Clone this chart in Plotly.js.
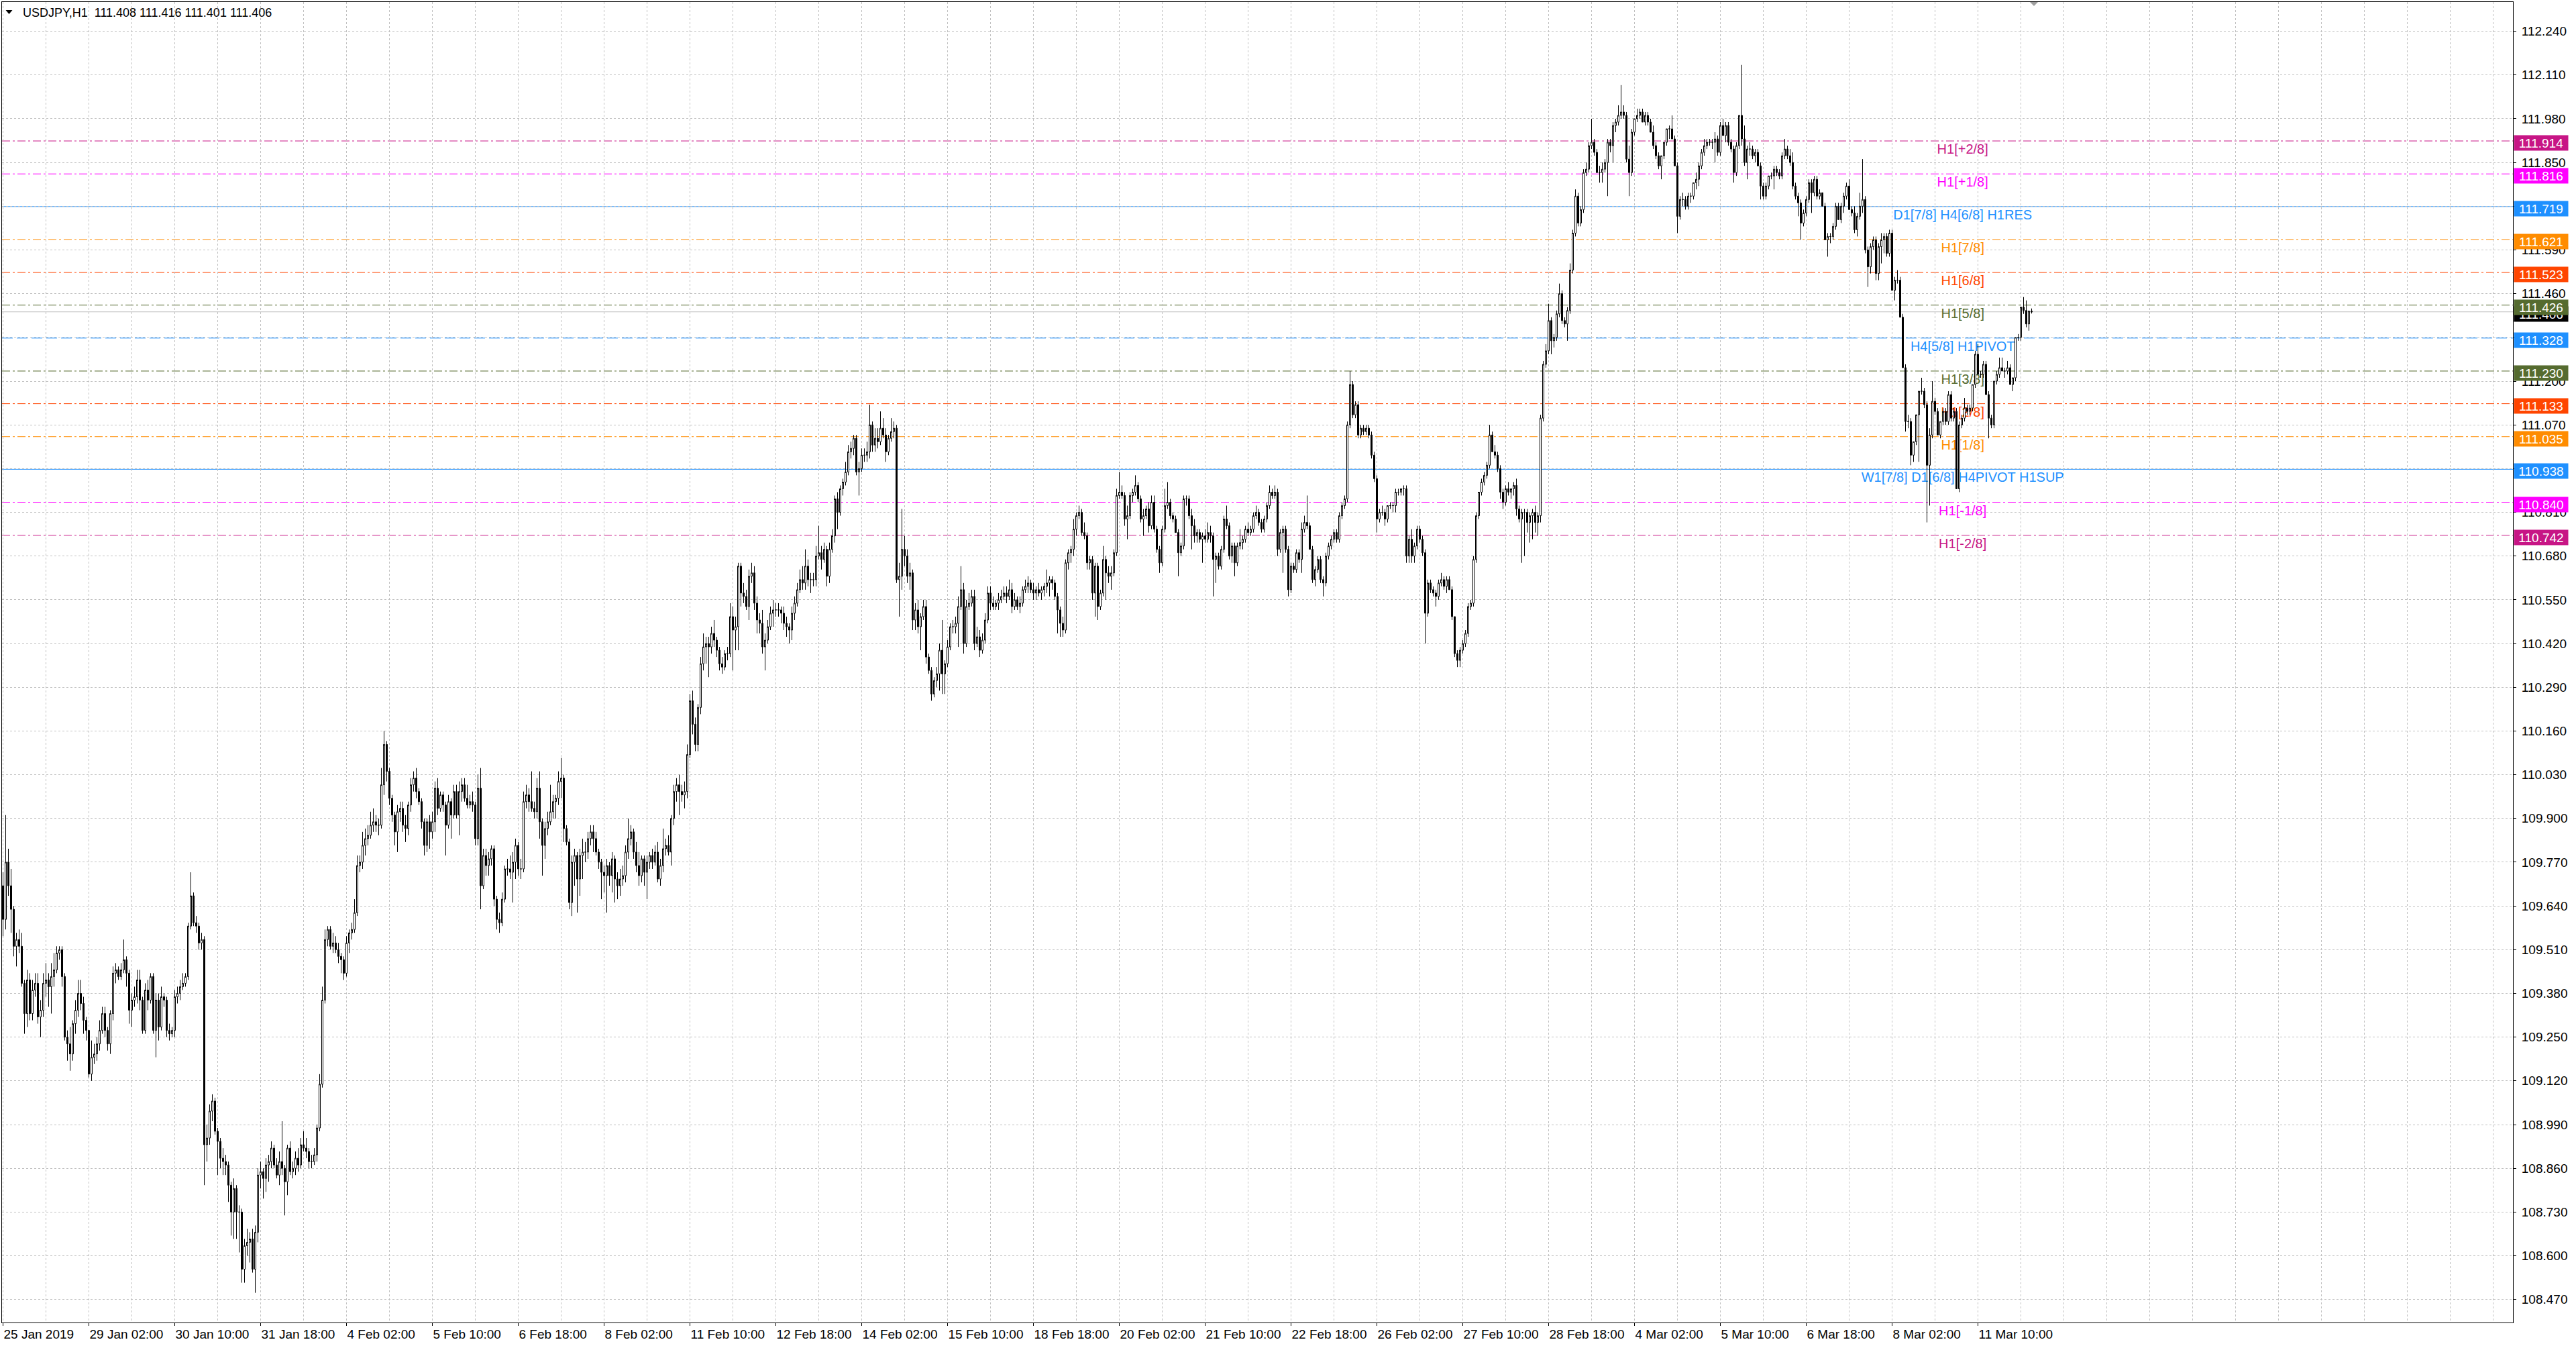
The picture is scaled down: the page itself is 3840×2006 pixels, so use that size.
<!DOCTYPE html>
<html><head><meta charset="utf-8">
<script src="https://cdn.plot.ly/plotly-3.0.1.min.js"></script>
<style>html,body{margin:0;padding:0;background:#fff;overflow:hidden}#chart{width:3840px;height:2006px}</style>
</head><body><div id="chart"></div>
<script>
// ---------------- data ----------------
const symbolName = 'USDJPY,H1';
const timeLabels = ['25 Jan 2019','29 Jan 02:00','30 Jan 10:00','31 Jan 18:00','4 Feb 02:00','5 Feb 10:00','6 Feb 18:00','8 Feb 02:00','11 Feb 10:00','12 Feb 18:00','14 Feb 02:00','15 Feb 10:00','18 Feb 18:00','20 Feb 02:00','21 Feb 10:00','22 Feb 18:00','26 Feb 02:00','27 Feb 10:00','28 Feb 18:00','4 Mar 02:00','5 Mar 10:00','6 Mar 18:00','8 Mar 02:00','11 Mar 10:00'];
const timeLabelBars = [0,32,64,96,128,160,192,224,256,288,320,352,384,416,448,480,512,544,576,608,640,672,704,736];
const priceTicks = [112.240,112.110,111.980,111.850,111.720,111.590,111.460,111.330,111.200,111.070,110.940,110.810,110.680,110.550,110.420,110.290,110.160,110.030,109.900,109.770,109.640,109.510,109.380,109.250,109.120,108.990,108.860,108.730,108.600,108.470];
const levelPrices = [111.914,111.816,111.719,111.621,111.523,111.426,111.328,111.230,111.133,111.035,110.938,110.840,110.742];
const levelNames = ['H1[+2/8]','H1[+1/8]','D1[7/8] H4[6/8] H1RES','H1[7/8]','H1[6/8]','H1[5/8]','H4[5/8] H1PIVOT','H1[3/8]','H1[2/8]','H1[1/8]','W1[7/8] D1[6/8] H4PIVOT H1SUP','H1[-1/8]','H1[-2/8]'];
const bidPrice = 111.406;

const close = [
109.60,109.77,109.70,109.63,109.52,109.54,109.52,109.41,109.32,109.42,
109.32,109.39,109.41,109.31,109.33,109.41,109.42,109.40,109.43,109.45,
109.50,109.51,109.43,109.25,109.23,109.20,109.29,109.33,109.38,109.35,
109.30,109.27,109.14,109.19,109.20,109.23,109.27,109.32,109.27,109.23,
109.32,109.44,109.45,109.43,109.45,109.48,109.44,109.33,109.36,109.37,
109.42,109.36,109.27,109.39,109.36,109.43,109.27,109.36,109.28,109.37,
109.36,109.27,109.26,109.27,109.37,109.38,109.40,109.41,109.43,109.58,
109.67,109.59,109.58,109.53,109.54,108.93,108.95,109.03,109.06,108.97,
108.94,108.89,108.88,108.87,108.81,108.73,108.80,108.73,108.73,108.56,
108.63,108.64,108.65,108.56,108.67,108.84,108.85,108.83,108.87,108.88,
108.92,108.87,108.84,108.88,108.86,108.82,108.92,108.85,108.86,108.89,
108.87,108.93,108.92,108.91,108.88,108.88,108.90,108.98,109.11,109.36,
109.54,109.57,109.52,109.53,109.51,109.49,109.48,109.44,109.53,109.56,
109.57,109.62,109.76,109.77,109.82,109.84,109.85,109.88,109.89,109.88,
109.88,110.00,110.12,110.04,109.96,109.91,109.86,109.92,109.93,109.88,
109.87,109.94,110.00,110.02,109.98,109.95,109.89,109.82,109.89,109.86,
109.89,109.99,109.93,109.97,109.94,109.88,109.95,109.91,109.98,109.91,
109.98,110.00,109.96,109.94,109.95,109.94,109.84,109.99,109.70,109.79,
109.76,109.78,109.81,109.66,109.60,109.59,109.66,109.75,109.75,109.74,
109.77,109.82,109.75,109.75,109.95,109.97,109.95,109.93,109.92,109.99,
109.89,109.82,109.87,109.89,109.92,109.95,109.96,110.01,110.02,109.87,
109.83,109.65,109.77,109.79,109.72,109.79,109.80,109.80,109.84,109.86,
109.84,109.80,109.77,109.74,109.73,109.76,109.73,109.78,109.72,109.70,
109.72,109.73,109.80,109.84,109.86,109.80,109.76,109.73,109.78,109.74,
109.77,109.79,109.77,109.80,109.72,109.76,109.81,109.82,109.80,109.90,
109.98,110.00,109.98,109.97,109.98,110.09,110.25,110.18,110.12,110.23,
110.36,110.41,110.42,110.41,110.45,110.43,110.40,110.36,110.35,110.39,
110.39,110.50,110.46,110.47,110.65,110.57,110.56,110.53,110.62,110.63,
110.54,110.49,110.48,110.41,110.43,110.47,110.51,110.52,110.52,110.52,
110.51,110.48,110.47,110.46,110.51,110.54,110.58,110.61,110.60,110.65,
110.61,110.61,110.61,110.68,110.69,110.67,110.70,110.62,110.70,110.74,
110.85,110.81,110.88,110.90,110.93,110.99,111.00,111.03,110.93,110.94,
110.98,110.98,110.99,111.07,111.01,111.03,111.02,111.06,111.04,110.99,
111.03,111.05,111.06,110.61,110.62,110.70,110.68,110.62,110.63,110.49,
110.52,110.47,110.50,110.53,110.38,110.34,110.27,110.31,110.33,110.40,
110.33,110.36,110.41,110.47,110.47,110.48,110.53,110.58,110.42,110.53,
110.54,110.56,110.42,110.44,110.40,110.43,110.49,110.57,110.54,110.53,
110.54,110.55,110.56,110.57,110.56,110.58,110.53,110.55,110.53,110.54,
110.58,110.59,110.60,110.58,110.57,110.58,110.57,110.58,110.59,110.60,
110.61,110.60,110.56,110.52,110.48,110.46,110.66,110.69,110.70,110.76,
110.80,110.81,110.75,110.74,110.66,110.67,110.57,110.65,110.53,110.57,
110.67,110.63,110.62,110.63,110.69,110.86,110.87,110.86,110.79,110.80,
110.86,110.87,110.89,110.85,110.79,110.80,110.82,110.77,110.84,110.76,
110.70,110.66,110.76,110.83,110.84,110.80,110.79,110.75,110.69,110.71,
110.85,110.85,110.80,110.77,110.74,110.75,110.73,110.74,110.73,110.75,
110.74,110.67,110.68,110.65,110.70,110.79,110.77,110.68,110.71,110.66,
110.71,110.72,110.73,110.76,110.75,110.76,110.80,110.81,110.78,110.76,
110.79,110.83,110.87,110.86,110.87,110.70,110.75,110.76,110.70,110.58,
110.65,110.64,110.69,110.67,110.76,110.78,110.77,110.70,110.61,110.64,
110.67,110.61,110.60,110.68,110.71,110.73,110.75,110.73,110.80,110.83,
110.85,111.07,111.19,111.10,111.13,111.04,111.06,111.05,111.06,111.04,
110.98,110.91,110.79,110.81,110.81,110.79,110.83,110.83,110.83,110.87,
110.87,110.88,110.88,110.68,110.73,110.68,110.71,110.76,110.73,110.69,
110.51,110.60,110.58,110.57,110.56,110.60,110.61,110.59,110.61,110.58,
110.50,110.39,110.37,110.40,110.42,110.45,110.53,110.54,110.67,110.80,
110.87,110.90,110.92,110.95,111.04,110.99,110.98,110.94,110.87,110.84,
110.88,110.87,110.88,110.89,110.82,110.79,110.81,110.81,110.78,110.80,
110.81,110.78,110.80,111.09,111.25,111.29,111.38,111.32,111.33,111.40,
111.46,111.38,111.37,111.41,111.53,111.64,111.75,111.67,111.71,111.82,
111.83,111.90,111.91,111.88,111.82,111.82,111.83,111.85,111.91,111.90,
111.96,111.97,111.99,112.00,111.99,111.86,111.82,111.94,111.98,111.99,
112.00,111.97,111.99,111.97,111.94,111.90,111.87,111.84,111.87,111.91,
111.95,111.95,111.92,111.84,111.69,111.74,111.74,111.72,111.75,111.75,
111.79,111.80,111.84,111.88,111.90,111.91,111.91,111.91,111.92,111.88,
111.96,111.93,111.96,111.91,111.89,111.82,111.90,111.99,111.92,111.85,
111.89,111.89,111.87,111.88,111.84,111.78,111.75,111.78,111.81,111.81,
111.83,111.82,111.81,111.87,111.89,111.87,111.85,111.78,111.75,111.73,
111.67,111.70,111.74,111.79,111.76,111.80,111.75,111.76,111.72,111.62,
111.63,111.63,111.66,111.72,111.68,111.72,111.75,111.78,111.71,111.70,
111.65,111.69,111.72,111.74,111.59,111.54,111.60,111.62,111.52,111.60,
111.62,111.63,111.58,111.64,111.47,111.50,111.50,111.39,111.24,111.08,
111.08,110.98,111.02,111.10,111.17,111.17,111.13,110.95,111.04,111.14,
111.11,111.04,111.08,111.11,111.08,111.16,111.09,111.11,110.88,111.07,
111.09,111.12,111.11,111.12,111.19,111.28,111.22,111.22,111.25,111.16,
111.09,111.07,111.20,111.22,111.24,111.23,111.23,111.24,111.19,111.21,
111.33,111.33,111.42,111.41,111.37,111.408,111.406];

const open = [109.70,
109.60,109.77,109.70,109.63,109.52,109.54,109.52,109.41,109.32,109.42,
109.32,109.39,109.41,109.31,109.33,109.41,109.42,109.40,109.43,109.45,
109.50,109.51,109.43,109.25,109.23,109.20,109.29,109.33,109.38,109.35,
109.30,109.27,109.14,109.19,109.20,109.23,109.27,109.32,109.27,109.23,
109.32,109.44,109.45,109.43,109.45,109.48,109.44,109.33,109.36,109.37,
109.42,109.36,109.27,109.39,109.36,109.43,109.27,109.36,109.28,109.37,
109.36,109.27,109.26,109.27,109.37,109.38,109.40,109.41,109.43,109.58,
109.67,109.59,109.58,109.53,109.54,108.93,108.95,109.03,109.06,108.97,
108.94,108.89,108.88,108.87,108.81,108.73,108.80,108.73,108.73,108.56,
108.63,108.64,108.65,108.56,108.67,108.84,108.85,108.83,108.87,108.88,
108.92,108.87,108.84,108.88,108.86,108.82,108.92,108.85,108.86,108.89,
108.87,108.93,108.92,108.91,108.88,108.88,108.90,108.98,109.11,109.36,
109.54,109.57,109.52,109.53,109.51,109.49,109.48,109.44,109.53,109.56,
109.57,109.62,109.76,109.77,109.82,109.84,109.85,109.88,109.89,109.88,
109.88,110.00,110.12,110.04,109.96,109.91,109.86,109.92,109.93,109.88,
109.87,109.94,110.00,110.02,109.98,109.95,109.89,109.82,109.89,109.86,
109.89,109.99,109.93,109.97,109.94,109.88,109.95,109.91,109.98,109.91,
109.98,110.00,109.96,109.94,109.95,109.94,109.84,109.99,109.70,109.79,
109.76,109.78,109.81,109.66,109.60,109.59,109.66,109.75,109.75,109.74,
109.77,109.82,109.75,109.75,109.95,109.97,109.95,109.93,109.92,109.99,
109.89,109.82,109.87,109.89,109.92,109.95,109.96,110.01,110.02,109.87,
109.83,109.65,109.77,109.79,109.72,109.79,109.80,109.80,109.84,109.86,
109.84,109.80,109.77,109.74,109.73,109.76,109.73,109.78,109.72,109.70,
109.72,109.73,109.80,109.84,109.86,109.80,109.76,109.73,109.78,109.74,
109.77,109.79,109.77,109.80,109.72,109.76,109.81,109.82,109.80,109.90,
109.98,110.00,109.98,109.97,109.98,110.09,110.25,110.18,110.12,110.23,
110.36,110.41,110.42,110.41,110.45,110.43,110.40,110.36,110.35,110.39,
110.39,110.50,110.46,110.47,110.65,110.57,110.56,110.53,110.62,110.63,
110.54,110.49,110.48,110.41,110.43,110.47,110.51,110.52,110.52,110.52,
110.51,110.48,110.47,110.46,110.51,110.54,110.58,110.61,110.60,110.65,
110.61,110.61,110.61,110.68,110.69,110.67,110.70,110.62,110.70,110.74,
110.85,110.81,110.88,110.90,110.93,110.99,111.00,111.03,110.93,110.94,
110.98,110.98,110.99,111.07,111.01,111.03,111.02,111.06,111.04,110.99,
111.03,111.05,111.06,110.61,110.62,110.70,110.68,110.62,110.63,110.49,
110.52,110.47,110.50,110.53,110.38,110.34,110.27,110.31,110.33,110.40,
110.33,110.36,110.41,110.47,110.47,110.48,110.53,110.58,110.42,110.53,
110.54,110.56,110.42,110.44,110.40,110.43,110.49,110.57,110.54,110.53,
110.54,110.55,110.56,110.57,110.56,110.58,110.53,110.55,110.53,110.54,
110.58,110.59,110.60,110.58,110.57,110.58,110.57,110.58,110.59,110.60,
110.61,110.60,110.56,110.52,110.48,110.46,110.66,110.69,110.70,110.76,
110.80,110.81,110.75,110.74,110.66,110.67,110.57,110.65,110.53,110.57,
110.67,110.63,110.62,110.63,110.69,110.86,110.87,110.86,110.79,110.80,
110.86,110.87,110.89,110.85,110.79,110.80,110.82,110.77,110.84,110.76,
110.70,110.66,110.76,110.83,110.84,110.80,110.79,110.75,110.69,110.71,
110.85,110.85,110.80,110.77,110.74,110.75,110.73,110.74,110.73,110.75,
110.74,110.67,110.68,110.65,110.70,110.79,110.77,110.68,110.71,110.66,
110.71,110.72,110.73,110.76,110.75,110.76,110.80,110.81,110.78,110.76,
110.79,110.83,110.87,110.86,110.87,110.70,110.75,110.76,110.70,110.58,
110.65,110.64,110.69,110.67,110.76,110.78,110.77,110.70,110.61,110.64,
110.67,110.61,110.60,110.68,110.71,110.73,110.75,110.73,110.80,110.83,
110.85,111.07,111.19,111.10,111.13,111.04,111.06,111.05,111.06,111.04,
110.98,110.91,110.79,110.81,110.81,110.79,110.83,110.83,110.83,110.87,
110.87,110.88,110.88,110.68,110.73,110.68,110.71,110.76,110.73,110.69,
110.51,110.60,110.58,110.57,110.56,110.60,110.61,110.59,110.61,110.58,
110.50,110.39,110.37,110.40,110.42,110.45,110.53,110.54,110.67,110.80,
110.87,110.90,110.92,110.95,111.04,110.99,110.98,110.94,110.87,110.84,
110.88,110.87,110.88,110.89,110.82,110.79,110.81,110.81,110.78,110.80,
110.81,110.78,110.80,111.09,111.25,111.29,111.38,111.32,111.33,111.40,
111.46,111.38,111.37,111.41,111.53,111.64,111.75,111.67,111.71,111.82,
111.83,111.90,111.91,111.88,111.82,111.82,111.83,111.85,111.91,111.90,
111.96,111.97,111.99,112.00,111.99,111.86,111.82,111.94,111.98,111.99,
112.00,111.97,111.99,111.97,111.94,111.90,111.87,111.84,111.87,111.91,
111.95,111.95,111.92,111.84,111.69,111.74,111.74,111.72,111.75,111.75,
111.79,111.80,111.84,111.88,111.90,111.91,111.91,111.91,111.92,111.88,
111.96,111.93,111.96,111.91,111.89,111.82,111.90,111.99,111.92,111.85,
111.89,111.89,111.87,111.88,111.84,111.78,111.75,111.78,111.81,111.81,
111.83,111.82,111.81,111.87,111.89,111.87,111.85,111.78,111.75,111.73,
111.67,111.70,111.74,111.79,111.76,111.80,111.75,111.76,111.72,111.62,
111.63,111.63,111.66,111.72,111.68,111.72,111.75,111.78,111.71,111.70,
111.65,111.69,111.72,111.74,111.59,111.54,111.60,111.62,111.52,111.60,
111.62,111.63,111.58,111.64,111.47,111.50,111.50,111.39,111.24,111.08,
111.08,110.98,111.02,111.10,111.17,111.17,111.13,110.95,111.04,111.14,
111.11,111.04,111.08,111.11,111.08,111.16,111.09,111.11,110.88,111.07,
111.09,111.12,111.11,111.12,111.19,111.28,111.22,111.22,111.25,111.16,
111.09,111.07,111.20,111.22,111.24,111.23,111.23,111.24,111.19,111.21,
111.33,111.33,111.42,111.41,111.37,111.408];

const high = [
109.74,109.91,109.81,109.75,109.64,109.56,109.57,109.56,109.42,109.45,
109.44,109.42,109.44,109.44,109.36,109.44,109.47,109.44,109.47,109.50,
109.52,109.52,109.52,109.44,109.27,109.28,109.30,109.36,109.42,109.42,
109.37,109.31,109.27,109.24,109.23,109.25,109.30,109.34,109.34,109.28,
109.33,109.46,109.47,109.46,109.47,109.54,109.49,109.45,109.38,109.40,
109.45,109.45,109.37,109.41,109.42,109.44,109.44,109.38,109.38,109.40,
109.38,109.37,109.29,109.28,109.39,109.40,109.42,109.44,109.44,109.59,
109.74,109.68,109.61,109.59,109.56,109.55,108.99,109.05,109.08,109.07,
108.98,108.95,108.92,108.90,108.88,108.82,108.83,108.81,108.75,108.74,
108.65,108.68,108.67,108.68,108.69,108.86,108.88,108.86,108.89,108.90,
108.94,108.93,108.89,108.91,109.00,108.87,108.93,108.94,108.88,108.91,
108.92,108.95,108.97,108.95,108.92,108.90,108.92,108.99,109.14,109.40,
109.57,109.58,109.58,109.56,109.55,109.53,109.50,109.49,109.55,109.57,
109.59,109.66,109.79,109.79,109.86,109.87,109.88,109.92,109.93,109.91,
109.90,110.05,110.16,110.13,110.05,109.97,109.92,109.94,109.95,109.95,
109.91,109.95,110.02,110.04,110.05,109.99,109.96,109.90,109.90,109.91,
109.92,110.01,110.02,109.98,109.98,109.95,109.97,109.96,110.00,110.00,
110.01,110.02,110.02,110.00,109.97,109.98,109.95,110.03,110.05,109.81,
109.81,109.80,109.82,109.82,109.67,109.62,109.68,109.76,109.78,109.79,
109.80,109.84,109.83,109.78,109.98,110.00,109.99,110.04,109.95,110.02,
110.04,109.90,109.89,109.92,110.00,109.97,109.97,110.04,110.08,110.03,
109.88,109.84,109.79,109.81,109.80,109.81,109.84,109.83,109.86,109.88,
109.88,109.86,109.81,109.78,109.76,109.78,109.77,109.80,109.79,109.74,
109.75,109.76,109.82,109.90,109.88,109.87,109.83,109.80,109.79,109.79,
109.79,109.80,109.81,109.82,109.83,109.78,109.87,109.84,109.85,109.91,
110.00,110.02,110.03,110.00,110.01,110.12,110.27,110.28,110.20,110.24,
110.38,110.45,110.44,110.44,110.47,110.49,110.44,110.41,110.38,110.40,
110.41,110.54,110.53,110.50,110.66,110.66,110.60,110.58,110.64,110.66,
110.65,110.56,110.51,110.52,110.45,110.49,110.53,110.55,110.54,110.54,
110.53,110.53,110.50,110.48,110.53,110.56,110.60,110.64,110.65,110.70,
110.67,110.63,110.63,110.71,110.77,110.71,110.72,110.71,110.72,110.76,
110.86,110.87,110.89,110.91,110.96,111.01,111.02,111.04,111.04,110.96,
111.00,111.00,111.02,111.13,111.08,111.06,111.06,111.11,111.09,111.06,
111.04,111.09,111.08,111.07,110.66,110.82,110.74,110.70,110.66,110.64,
110.54,110.55,110.51,110.55,110.55,110.39,110.35,110.32,110.35,110.42,
110.49,110.37,110.43,110.48,110.49,110.50,110.56,110.65,110.60,110.55,
110.57,110.58,110.58,110.47,110.46,110.45,110.51,110.59,110.59,110.56,
110.55,110.57,110.58,110.59,110.59,110.61,110.60,110.57,110.56,110.56,
110.59,110.61,110.62,110.61,110.60,110.59,110.60,110.59,110.60,110.64,
110.62,110.62,110.61,110.57,110.53,110.50,110.67,110.70,110.71,110.79,
110.81,110.83,110.82,110.78,110.75,110.68,110.68,110.66,110.66,110.58,
110.71,110.68,110.65,110.65,110.70,110.88,110.93,110.89,110.87,110.83,
110.87,110.88,110.92,110.90,110.86,110.82,110.83,110.84,110.86,110.86,
110.77,110.71,110.77,110.88,110.90,110.85,110.81,110.80,110.76,110.72,
110.86,110.86,110.86,110.82,110.79,110.76,110.76,110.75,110.76,110.78,
110.77,110.75,110.69,110.69,110.71,110.80,110.83,110.78,110.72,110.72,
110.72,110.76,110.74,110.77,110.78,110.77,110.81,110.83,110.82,110.79,
110.80,110.84,110.89,110.88,110.89,110.88,110.76,110.77,110.77,110.71,
110.66,110.66,110.70,110.70,110.78,110.80,110.86,110.78,110.71,110.65,
110.68,110.68,110.62,110.69,110.72,110.74,110.76,110.76,110.81,110.84,
110.86,111.08,111.23,111.20,111.14,111.14,111.07,111.07,111.07,111.07,
111.05,110.99,110.92,110.82,110.83,110.82,110.83,110.84,110.84,110.88,
110.88,110.88,110.89,110.89,110.74,110.76,110.72,110.77,110.77,110.74,
110.70,110.61,110.61,110.59,110.58,110.61,110.63,110.62,110.62,110.62,
110.59,110.50,110.40,110.41,110.43,110.46,110.54,110.55,110.68,110.81,
110.87,110.91,110.93,110.96,111.07,111.05,111.01,110.99,110.95,110.88,
110.89,110.90,110.88,110.90,110.91,110.83,110.82,110.82,110.82,110.81,
110.82,110.83,110.81,111.10,111.26,111.31,111.43,111.39,111.34,111.41,
111.49,111.47,111.39,111.42,111.55,111.65,111.77,111.76,111.72,111.83,
111.85,111.91,111.98,111.92,111.89,111.84,111.85,111.86,111.92,111.92,
111.97,111.98,112.02,112.08,112.02,112.00,111.90,111.95,111.98,112.01,
112.01,112.01,112.00,112.00,111.98,111.96,111.91,111.88,111.87,111.91,
111.95,111.96,111.99,111.93,111.85,111.75,111.76,111.75,111.76,111.76,
111.79,111.82,111.85,111.89,111.92,111.92,111.92,111.92,111.94,111.93,
111.97,111.98,111.97,111.97,111.92,111.90,111.91,111.99,112.14,111.96,
111.90,111.91,111.90,111.89,111.89,111.85,111.79,111.79,111.81,111.82,
111.84,111.84,111.83,111.88,111.92,111.90,111.89,111.88,111.79,111.76,
111.74,111.71,111.75,111.80,111.80,111.81,111.81,111.77,111.76,111.73,
111.64,111.64,111.67,111.73,111.73,111.73,111.76,111.79,111.80,111.72,
111.72,111.70,111.76,111.86,111.75,111.60,111.61,111.63,111.63,111.61,
111.64,111.64,111.64,111.65,111.65,111.51,111.53,111.51,111.40,111.25,
111.10,111.09,111.02,111.10,111.17,111.21,111.18,111.14,111.06,111.20,
111.15,111.12,111.08,111.12,111.12,111.17,111.17,111.12,111.12,111.08,
111.10,111.15,111.13,111.13,111.19,111.29,111.31,111.23,111.26,111.26,
111.17,111.10,111.20,111.23,111.27,111.27,111.24,111.26,111.25,111.21,
111.33,111.34,111.42,111.45,111.44,111.41,111.416];

const low = [
109.55,109.57,109.67,109.56,109.49,109.46,109.50,109.40,109.26,109.28,
109.30,109.30,109.37,109.29,109.25,109.31,109.37,109.34,109.32,109.40,
109.44,109.48,109.40,109.24,109.18,109.15,109.18,109.26,109.31,109.33,
109.26,109.24,109.13,109.12,109.17,109.18,109.21,109.26,109.25,109.21,
109.20,109.30,109.41,109.42,109.42,109.44,109.40,109.29,109.28,109.34,
109.35,109.33,109.26,109.26,109.33,109.35,109.26,109.19,109.24,109.27,
109.34,109.25,109.24,109.25,109.25,109.35,109.36,109.39,109.40,109.42,
109.57,109.58,109.56,109.51,109.51,108.81,108.88,108.93,109.00,108.96,
108.84,108.86,108.84,108.84,108.76,108.66,108.65,108.65,108.61,108.52,
108.52,108.60,108.58,108.55,108.49,108.64,108.80,108.77,108.79,108.82,
108.86,108.86,108.83,108.81,108.84,108.72,108.78,108.84,108.83,108.84,
108.85,108.86,108.91,108.89,108.86,108.86,108.87,108.88,108.97,109.10,
109.35,109.52,109.51,109.50,109.50,109.47,109.44,109.42,109.43,109.50,
109.54,109.56,109.61,109.74,109.75,109.79,109.82,109.84,109.86,109.86,
109.85,109.87,109.97,110.01,109.94,109.89,109.82,109.80,109.89,109.86,
109.83,109.85,109.92,109.98,109.96,109.94,109.87,109.79,109.80,109.81,
109.84,109.86,109.91,109.92,109.92,109.79,109.87,109.84,109.90,109.90,
109.85,109.95,109.95,109.93,109.93,109.92,109.82,109.82,109.63,109.69,
109.73,109.73,109.76,109.64,109.57,109.56,109.58,109.65,109.73,109.72,
109.65,109.72,109.73,109.72,109.74,109.93,109.92,109.92,109.90,109.90,
109.84,109.73,109.78,109.85,109.88,109.90,109.90,109.94,109.96,109.83,
109.82,109.63,109.61,109.70,109.62,109.67,109.72,109.77,109.78,109.82,
109.80,109.79,109.75,109.66,109.68,109.62,109.70,109.68,109.65,109.66,
109.67,109.70,109.71,109.78,109.82,109.78,109.74,109.70,109.71,109.70,
109.66,109.75,109.75,109.76,109.71,109.70,109.74,109.79,109.79,109.76,
109.88,109.95,109.91,109.95,109.93,109.96,110.08,110.15,110.10,110.10,
110.21,110.34,110.36,110.32,110.39,110.41,110.38,110.34,110.33,110.34,
110.37,110.38,110.34,110.40,110.40,110.53,110.54,110.52,110.49,110.60,
110.52,110.45,110.45,110.39,110.34,110.42,110.46,110.47,110.50,110.50,
110.48,110.46,110.44,110.42,110.43,110.49,110.53,110.57,110.58,110.58,
110.59,110.57,110.59,110.59,110.67,110.64,110.66,110.59,110.60,110.69,
110.72,110.76,110.80,110.86,110.89,110.92,110.97,110.98,110.92,110.86,
110.93,110.96,110.96,110.97,110.99,110.99,111.00,111.01,111.03,110.96,
110.98,111.02,111.03,110.60,110.50,110.58,110.65,110.60,110.58,110.46,
110.46,110.45,110.40,110.49,110.36,110.33,110.25,110.26,110.29,110.28,
110.27,110.27,110.35,110.40,110.45,110.45,110.41,110.52,110.39,110.41,
110.52,110.53,110.40,110.41,110.38,110.39,110.42,110.48,110.52,110.52,
110.52,110.52,110.54,110.55,110.54,110.55,110.51,110.52,110.52,110.51,
110.53,110.57,110.57,110.57,110.55,110.55,110.56,110.55,110.56,110.57,
110.56,110.58,110.55,110.45,110.44,110.44,110.45,110.64,110.66,110.68,
110.74,110.79,110.74,110.73,110.64,110.64,110.55,110.50,110.49,110.52,
110.56,110.55,110.60,110.58,110.62,110.68,110.85,110.85,110.77,110.73,
110.79,110.84,110.86,110.84,110.78,110.74,110.79,110.75,110.76,110.75,
110.69,110.63,110.65,110.75,110.82,110.79,110.78,110.75,110.62,110.68,
110.70,110.83,110.79,110.70,110.72,110.72,110.72,110.66,110.72,110.72,
110.72,110.56,110.60,110.64,110.64,110.69,110.76,110.67,110.66,110.62,
110.65,110.70,110.70,110.72,110.74,110.74,110.75,110.79,110.77,110.75,
110.75,110.78,110.82,110.85,110.85,110.68,110.69,110.63,110.69,110.56,
110.57,110.63,110.63,110.66,110.63,110.75,110.76,110.70,110.60,110.59,
110.63,110.60,110.56,110.59,110.67,110.70,110.72,110.72,110.72,110.79,
110.82,110.84,111.06,111.09,111.09,111.03,111.03,111.04,111.04,111.03,
110.97,110.90,110.75,110.78,110.80,110.77,110.78,110.82,110.81,110.81,
110.86,110.86,110.86,110.66,110.66,110.66,110.66,110.70,110.72,110.68,
110.42,110.50,110.57,110.56,110.53,110.55,110.59,110.58,110.57,110.58,
110.49,110.38,110.35,110.35,110.39,110.41,110.44,110.52,110.53,110.66,
110.79,110.86,110.89,110.91,110.94,110.99,110.97,110.93,110.85,110.82,
110.83,110.86,110.85,110.86,110.80,110.78,110.66,110.68,110.75,110.72,
110.73,110.75,110.74,110.78,111.08,111.24,111.28,111.28,111.30,111.32,
111.39,111.37,111.36,111.32,111.40,111.52,111.63,111.66,111.66,111.70,
111.81,111.82,111.89,111.87,111.82,111.79,111.79,111.82,111.75,111.88,
111.85,111.94,111.96,111.98,111.98,111.85,111.75,111.81,111.93,111.97,
111.98,111.97,111.96,111.96,111.94,111.89,111.86,111.83,111.80,111.86,
111.90,111.92,111.92,111.84,111.64,111.68,111.72,111.71,111.71,111.73,
111.74,111.77,111.78,111.83,111.87,111.89,111.90,111.89,111.85,111.87,
111.87,111.93,111.91,111.90,111.88,111.79,111.81,111.89,111.90,111.84,
111.80,111.87,111.86,111.85,111.84,111.74,111.74,111.74,111.77,111.80,
111.77,111.81,111.80,111.80,111.86,111.86,111.84,111.77,111.74,111.69,
111.62,111.66,111.69,111.73,111.70,111.75,111.74,111.74,111.72,111.62,
111.57,111.61,111.62,111.65,111.68,111.67,111.70,111.74,111.71,111.69,
111.64,111.63,111.68,111.70,111.58,111.48,111.52,111.59,111.50,111.50,
111.55,111.58,111.57,111.57,111.47,111.44,111.49,111.39,111.24,111.05,
111.06,110.95,110.96,111.01,110.96,111.16,111.12,110.78,110.83,111.03,
111.10,111.04,111.03,111.07,111.07,111.07,111.08,111.08,110.88,110.87,
111.06,111.08,111.10,111.10,111.11,111.18,111.22,111.21,111.21,111.16,
111.03,111.06,111.06,111.19,111.21,111.23,111.21,111.22,111.19,111.17,
111.20,111.32,111.32,111.40,111.36,111.35,111.401];

// ---------------- geometry / styles ----------------
const W = 3840, H = 2006;
const M = {l: 3, r: 94, t: 3, b: 35};
const PW = W - M.l - M.r, PH = H - M.t - M.b;
const X_RANGE = [-0.375, 935.375];          // bar centres land on half pixels -> crisp 1px wicks
const Y_RANGE = [108.4016, 112.327];
const PX_PER_YEN = PH / (Y_RANGE[1] - Y_RANGE[0]);
const FONT = 'Liberation Sans, Arial, sans-serif';
const levelColors = ['#C71585','#FF00FF','#1E90FF','#FF8C00','#FF4500','#556B2F','#1E90FF','#556B2F','#FF4500','#FF8C00','#1E90FF','#FF00FF','#C71585'];
const DASHDOT = '12px,4px,3px,4px', DASH = '16px,6px';
const levelDash = [DASHDOT,DASHDOT,'solid',DASHDOT,DASHDOT,DASHDOT,DASH,DASHDOT,DASHDOT,DASHDOT,'solid',DASHDOT,DASHDOT];
const GRID = '#c0c0c0', GRIDDASH = '3px,3px';
const px2paperX = px => (px - M.l) / PW;
const px2paperY = py => (H - M.b - py) / PH;
const labelBarCenter = 730.3;
const labelLift = 2 / PX_PER_YEN;   // raise level captions by 2px

const barIndex = close.map((_, i) => i);

const trace = {
  type: 'candlestick', x: barIndex, open: open, high: high, low: low, close: close,
  increasing: {line: {color: '#000000', width: 1}, fillcolor: '#ffffff'},
  decreasing: {line: {color: '#000000', width: 1}, fillcolor: '#000000'},
  whiskerwidth: 0, hoverinfo: 'skip', showlegend: false
};

const shapes = [];
const annotations = [];

// bid line
shapes.push({type:'line', xref:'paper', x0:0, x1:1, yref:'y', y0:bidPrice, y1:bidPrice,
  line:{color:'#c0c0c0', width:1}, layer:'between'});

levelPrices.forEach((p, k) => {
  shapes.push({type:'line', xref:'paper', x0:0, x1:1, yref:'y', y0:p, y1:p,
    line:{color:levelColors[k], width:1, dash:levelDash[k]}, layer:'between'});
  shapes.push({type:'line', xref:'x', x0:labelBarCenter-30, x1:labelBarCenter+30, yref:'y', y0:p+labelLift, y1:p+labelLift,
    line:{color:'rgba(0,0,0,0)', width:0}, layer:'between',
    label:{text:levelNames[k], textposition:'middle', yanchor:'top', padding:1,
      font:{family:FONT, size:20, color:levelColors[k]}}});
});

// title
annotations.push({xref:'paper', yref:'paper', x:px2paperX(32), y:px2paperY(19), xanchor:'left', yanchor:'middle',
  text: symbolName + '  ' + [open[open.length-1], high[high.length-1], low[low.length-1], close[close.length-1]].map(v => v.toFixed(3)).join(' '),
  showarrow:false, font:{family:FONT, size:18, color:'#000'}});
shapes.push({type:'path', xref:'paper', yref:'paper',
  path:`M ${px2paperX(8.5)} ${px2paperY(15)} L ${px2paperX(18.5)} ${px2paperY(15)} L ${px2paperX(13.5)} ${px2paperY(21)} Z`,
  fillcolor:'#000', line:{width:0}, layer:'above'});
// chart shift marker
shapes.push({type:'path', xref:'paper', yref:'paper',
  path:`M ${px2paperX(3026)} ${px2paperY(3)} L ${px2paperX(3038)} ${px2paperY(3)} L ${px2paperX(3032)} ${px2paperY(9)} Z`,
  fillcolor:'#a0a0a0', line:{width:0}, layer:'above'});

// price label boxes on the right axis
const boxX = px2paperX(3788);
annotations.push({xref:'paper', x:boxX, xanchor:'center', yref:'y', y:bidPrice, yanchor:'middle', yshift:-3,
  text:bidPrice.toFixed(3), showarrow:false, bgcolor:'#000', borderpad:0, width:80, height:22,
  font:{family:FONT, size:19, color:'#fff'}});
levelPrices.forEach((p, k) => {
  annotations.push({xref:'paper', x:boxX, xanchor:'center', yref:'y', y:p, yanchor:'middle', yshift:-3,
    text:p.toFixed(3), showarrow:false, bgcolor:levelColors[k], borderpad:0, width:80, height:22,
    font:{family:FONT, size:19, color:'#ffffff'}});
});

const layout = {
  width: W, height: H, margin: {l:M.l, r:M.r, t:M.t, b:M.b, pad:0},
  paper_bgcolor: '#ffffff', plot_bgcolor: '#ffffff', showlegend: false,
  boxgap: 0.5, boxgroupgap: 0,
  xaxis: {
    range: X_RANGE, tickmode: 'array', tickvals: timeLabelBars, ticktext: timeLabels,
    ticks: 'outside', ticklen: 4, tickwidth: 1, tickcolor: '#000',
    ticklabelposition: 'outside right',
    tickfont: {family: FONT, size: 19, color: '#000'},
    showgrid: true, gridcolor: GRID, gridwidth: 1, griddash: GRIDDASH,
    minor: {tickmode: 'linear', tick0: 0, dtick: 16, showgrid: true, gridcolor: GRID, gridwidth: 1, griddash: GRIDDASH, ticks: ''},
    showline: true, linecolor: '#000', linewidth: 1, mirror: true, zeroline: false,
    rangeslider: {visible: false}, fixedrange: true
  },
  yaxis: {
    side: 'right', range: Y_RANGE, tickmode: 'array', tickvals: priceTicks,
    ticktext: priceTicks.map(v => v.toFixed(3)),
    ticks: 'outside', ticklen: 4, tickwidth: 1, tickcolor: '#000', ticklabelstandoff: 4,
    tickfont: {family: FONT, size: 19, color: '#000'},
    showgrid: true, gridcolor: GRID, gridwidth: 1, griddash: GRIDDASH,
    showline: true, linecolor: '#000', linewidth: 1, mirror: true, zeroline: false, fixedrange: true
  },
  shapes: shapes, annotations: annotations
};

Plotly.newPlot('chart', [trace], layout, {staticPlot: true, displayModeBar: false});
</script>
</body></html>
